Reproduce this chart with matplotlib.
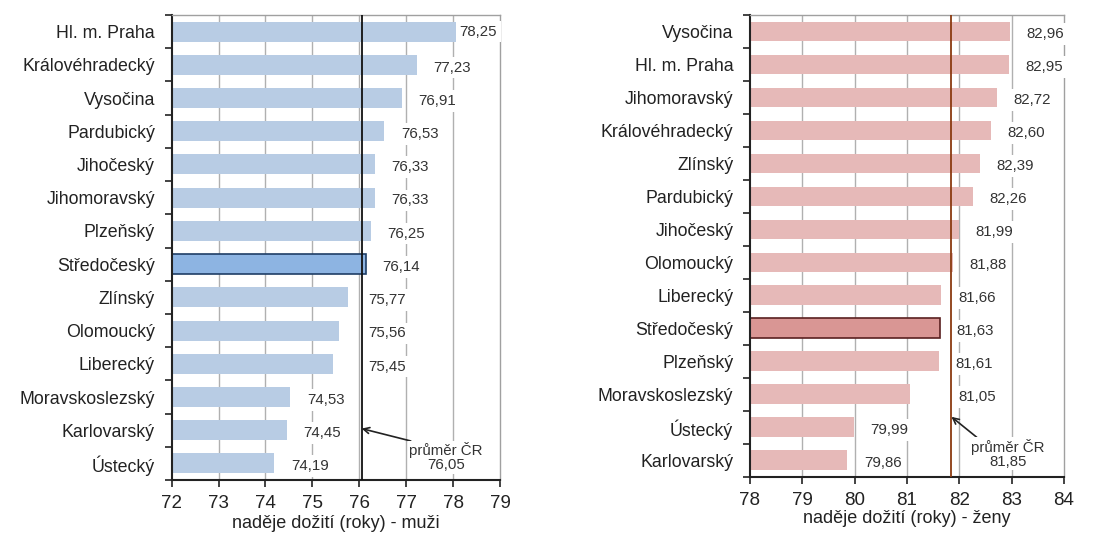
import matplotlib
matplotlib.use("Agg")
import matplotlib.pyplot as plt

plt.rcParams['font.family'] = ['Liberation Sans', 'DejaVu Sans']

# ---- data ----
men_regions = ["Hl. m. Praha", "Královéhradecký", "Vysočina", "Pardubický", "Jihočeský",
               "Jihomoravský", "Plzeňský", "Středočeský", "Zlínský", "Olomoucký",
               "Liberecký", "Moravskoslezský", "Karlovarský", "Ústecký"]
men_values = [78.25, 77.23, 76.91, 76.53, 76.33, 76.33, 76.25, 76.14, 75.77, 75.56,
              75.45, 74.53, 74.45, 74.19]
men_avg = 76.05
men_ticks = [72, 73, 74, 75, 76, 77, 78, 79]

women_regions = ["Vysočina", "Hl. m. Praha", "Jihomoravský", "Královéhradecký", "Zlínský",
                 "Pardubický", "Jihočeský", "Olomoucký", "Liberecký", "Středočeský",
                 "Plzeňský", "Moravskoslezský", "Ústecký", "Karlovarský"]
women_values = [82.96, 82.95, 82.72, 82.60, 82.39, 82.26, 81.99, 81.88, 81.66, 81.63,
                81.61, 81.05, 79.99, 79.86]
women_avg = 81.85
women_ticks = [78, 79, 80, 81, 82, 83, 84]

highlight = "Středočeský"


def fmt(v):
    return f"{v:.2f}".replace(".", ",")


fig = plt.figure(figsize=(10.93, 5.34), dpi=100)

VAL_FS = 10.8


def draw(ax, regions, values, avg, ticks, light, dark, edge, avgcolor, xlabel,
         tip_y, text_xy, off, lpad):
    n = len(regions)
    ys = list(range(n))[::-1]
    colors = [dark if r == highlight else light for r in regions]
    bars = ax.barh(ys, [v - ticks[0] for v in values], left=ticks[0], height=0.6,
                   color=colors, zorder=2)
    for b, r in zip(bars, regions):
        if r == highlight:
            b.set_edgecolor(edge)
            b.set_linewidth(1.2)
    ax.set_xlim(ticks[0], ticks[-1])
    ax.set_ylim(-0.5, n - 0.5)
    ax.set_xticks(ticks)
    ax.set_xticklabels([str(t) for t in ticks], fontsize=13.5, color='#222222')
    ax.set_yticks(ys)
    ax.set_yticklabels(regions, fontsize=12.8, color='#222222')
    ax.tick_params(axis='y', length=0, pad=12)
    ax.set_yticks([y + 0.5 for y in range(-1, n)], minor=True)
    ax.tick_params(axis='y', which='minor', length=5, width=1.2, color='#222222')
    ax.tick_params(axis='x', length=5, width=1.2, color='#222222', direction='out', pad=6)
    for t in ticks[1:-1]:
        ax.axvline(t, color='#b0b0b0', lw=1.0, zorder=1)
    ax.axvline(avg, color=avgcolor, lw=1.3, zorder=4)
    for s in ['top', 'right']:
        ax.spines[s].set_color('#a0a0a0')
        ax.spines[s].set_linewidth(1.0)
    for s in ['left', 'bottom']:
        ax.spines[s].set_color('#222222')
        ax.spines[s].set_linewidth(1.5)
    ax.set_xlabel(xlabel, fontsize=13, color='#222222', labelpad=lpad)

    # pixel scale along x (for label placement rules)
    px_per_unit = (ax.transData.transform((ticks[1], 0))[0]
                   - ax.transData.transform((ticks[0], 0))[0])
    off_px = off * fig.dpi / 72.0
    label_w = 42.0
    span = ticks[-1] - ticks[0]
    for y, v in zip(ys, values):
        bbox = dict(boxstyle='square,pad=0.25', fc='white', ec='none')
        if (v - ticks[0]) / span > 0.88:
            ax.text(ticks[-1] - 0.01 * span, y, fmt(v), ha='right', va='center',
                    fontsize=VAL_FS, color='#333333', zorder=5, bbox=bbox)
            continue
        start = v + off_px / px_per_unit
        end = start + label_w / px_per_unit
        if start - 4 / px_per_unit < avg < end:
            start = avg + 7 / px_per_unit
        ax.annotate(fmt(v), xy=(start, y), xytext=(0, -2), textcoords='offset points',
                    ha='left', va='center', fontsize=VAL_FS, color='#333333', zorder=5,
                    bbox=bbox)
    ax.annotate(f"průměr ČR\n{fmt(avg)}", xy=(avg, tip_y), xytext=text_xy,
                textcoords='data', ha='center', va='center', fontsize=VAL_FS,
                color='#333333', linespacing=1.0, zorder=6,
                bbox=dict(boxstyle='square,pad=0.1', fc='white', ec='none'),
                arrowprops=dict(arrowstyle='->', color='#222222', lw=1.2,
                                shrinkA=0, shrinkB=0, relpos=(0.1, 1.0)))


ax1 = fig.add_axes([0.157, 0.101, 0.3005, 0.871])
draw(ax1, men_regions, men_values, men_avg, men_ticks,
     '#b8cce4', '#8db4e2', '#1f3e66', '#111111',
     "naděje dožití (roky) - muži", 1.05, (77.85, 0.18), 12, 2)

ax2 = fig.add_axes([0.686, 0.107, 0.2875, 0.865])
draw(ax2, women_regions, women_values, women_avg, women_ticks,
     '#e6b9b8', '#d99694', '#5a2020', '#8b3a10',
     "naděje dožití (roky) - ženy", 1.32, (82.93, 0.2), 12, 0.5)

fig.savefig("out.png", dpi=100)
